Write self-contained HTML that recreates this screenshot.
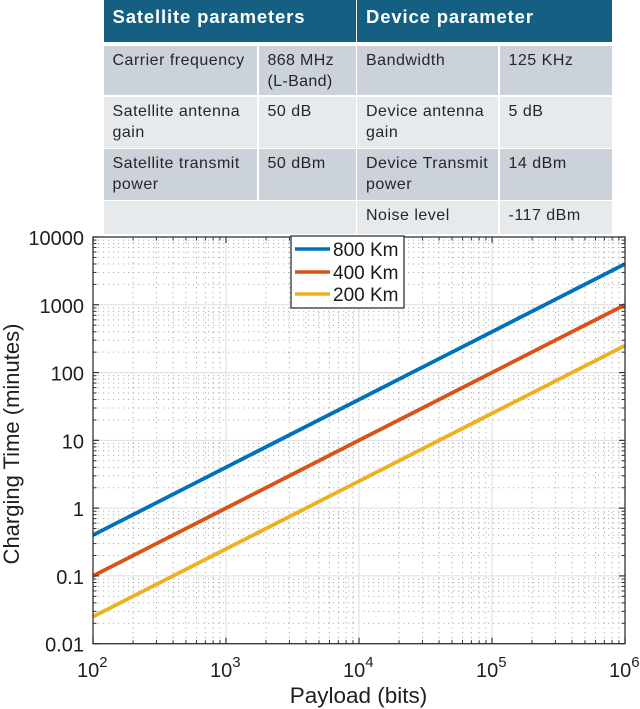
<!DOCTYPE html>
<html lang="en">
<head>
<meta charset="utf-8">
<title>Charging time vs payload</title>
<style>
html,body{margin:0;padding:0;background:#fff}
#page{position:relative;width:640px;height:709px;overflow:hidden;background:#fff;font-family:"Liberation Sans",sans-serif}
#chart{position:absolute;left:0;top:0;filter:blur(0.3px)}
#param-table{position:absolute;left:0;top:0;width:640px;height:235px;filter:blur(0.3px)}
.cell{position:absolute;box-sizing:border-box;padding:4px 0 0 9px;font-size:16px;line-height:21px;letter-spacing:.5px;color:#262626;white-space:nowrap}
.a{background:#ccd2d9}
.b{background:#e7eaed}
.h{background:#156082;color:#fff;font-weight:bold;font-size:18.5px;letter-spacing:.85px;padding-top:6px}
</style>
</head>
<body>
<div id="page">
<svg id="chart" width="640" height="709" viewBox="0 0 640 709" xmlns="http://www.w3.org/2000/svg"></svg>
<div id="param-table">
<div class="cell h" style="left:103.5px;top:0;width:252px;height:42px">Satellite parameters</div>
<div class="cell h" style="left:357px;top:0;width:255px;height:42px">Device parameter</div>

<div class="cell a" style="left:103.5px;top:46px;width:153.5px;height:49px">Carrier frequency</div>
<div class="cell a" style="left:258.5px;top:46px;width:97px;height:49px;letter-spacing:.35px">868 MHz<br>(L-Band)</div>
<div class="cell a" style="left:357px;top:46px;width:141px;height:49px">Bandwidth</div>
<div class="cell a" style="left:499.5px;top:46px;width:112.5px;height:49px">125 KHz</div>

<div class="cell b" style="left:103.5px;top:97px;width:153.5px;height:50.5px">Satellite antenna<br>gain</div>
<div class="cell b" style="left:258.5px;top:97px;width:97px;height:50.5px">50 dB</div>
<div class="cell b" style="left:357px;top:97px;width:141px;height:50.5px">Device antenna<br>gain</div>
<div class="cell b" style="left:499.5px;top:97px;width:112.5px;height:50.5px">5 dB</div>

<div class="cell a" style="left:103.5px;top:149px;width:153.5px;height:50.5px">Satellite transmit<br>power</div>
<div class="cell a" style="left:258.5px;top:149px;width:97px;height:50.5px">50 dBm</div>
<div class="cell a" style="left:357px;top:149px;width:141px;height:50.5px">Device Transmit<br>power</div>
<div class="cell a" style="left:499.5px;top:149px;width:112.5px;height:50.5px">14 dBm</div>

<div class="cell b" style="left:103.5px;top:201px;width:252px;height:32.5px"></div>
<div class="cell b" style="left:357px;top:201px;width:141px;height:32.5px">Noise level</div>
<div class="cell b" style="left:499.5px;top:201px;width:112.5px;height:32.5px">-117 dBm</div>
</div>
</div>
<script>
const payloadBits = [100, 1000, 10000, 100000, 1000000];
const series800Km = [0.4, 4, 40, 400, 4000];
const series400Km = [0.1, 1, 10, 100, 1000];
const series200Km = [0.025, 0.25, 2.5, 25, 250];
const seriesNames = ['800 Km', '400 Km', '200 Km'];
const xExponents = [2, 3, 4, 5, 6];
const yTickValues = [0.01, 0.1, 1, 10, 100, 1000, 10000];
const yTickLabels = ['0.01', '0.1', '1', '10', '100', '1000', '10000'];

const svg = document.getElementById('chart');
const NS = 'http://www.w3.org/2000/svg';
const plot = {l: 93, r: 625, t: 237, b: 643.7};
const xMin = 100, xMax = 1000000, yMin = 0.01, yMax = 10000;

function xScale(v) {
  return plot.l + (Math.log10(v) - Math.log10(xMin)) / (Math.log10(xMax) - Math.log10(xMin)) * (plot.r - plot.l);
}
function yScale(v) {
  return plot.b - (Math.log10(v) - Math.log10(yMin)) / (Math.log10(yMax) - Math.log10(yMin)) * (plot.b - plot.t);
}
function make(tag, attrs) {
  const el = document.createElementNS(NS, tag);
  for (const k in attrs) el.setAttribute(k, attrs[k]);
  return el;
}
function line(parent, x1, y1, x2, y2, stroke, width, dash) {
  const el = make('line', {x1: x1, y1: y1, x2: x2, y2: y2, stroke: stroke, 'stroke-width': width});
  if (dash) el.setAttribute('stroke-dasharray', dash);
  parent.appendChild(el);
  return el;
}
function minorValues(from, to) {
  const out = [];
  for (let d = from; d < to; d *= 10) {
    for (let m = 2; m <= 9; m++) out.push(d * m);
  }
  return out;
}

const gridGroup = make('g', {});


svg.appendChild(gridGroup);

minorValues(xMin, xMax).forEach(v => {
  const g = line(gridGroup, xScale(v), plot.t, xScale(v), plot.b, '#b0b0b0', 1, '1.2 3.8');
  
  
});
minorValues(yMin, yMax).forEach(v => {
  const g = line(gridGroup, plot.l, yScale(v), plot.r, yScale(v), '#b0b0b0', 1, '1.2 3.8');
  
  
});
payloadBits.forEach(v => {
  const g = line(gridGroup, xScale(v), plot.t, xScale(v), plot.b, '#dedede', 1);
  
  
});
yTickValues.forEach(v => {
  const g = line(gridGroup, plot.l, yScale(v), plot.r, yScale(v), '#dedede', 1);
  
  
});

const colors = ['#0072bd', '#d95319', '#edb120'];
const allSeries = [series800Km, series400Km, series200Km];
allSeries.forEach((vals, i) => {
  const pts = vals.map((v, j) => xScale(payloadBits[j]).toFixed(2) + ',' + yScale(v).toFixed(2)).join(' ');
  const p = make('polyline', {points: pts, fill: 'none', stroke: colors[i], 'stroke-width': 3.8});
  
  
  svg.appendChild(p);
});

const axisGroup = make('g', {});


svg.appendChild(axisGroup);

const axisColor = '#333333';
const box = make('rect', {x: plot.l, y: plot.t, width: plot.r - plot.l, height: plot.b - plot.t, fill: 'none', stroke: axisColor, 'stroke-width': 1.3});


axisGroup.appendChild(box);

payloadBits.forEach(v => {
  const x = xScale(v);
  line(axisGroup, x, plot.b, x, plot.b - 6, axisColor, 1.2);
  line(axisGroup, x, plot.t, x, plot.t + 6, axisColor, 1.2);
});
minorValues(xMin, xMax).forEach(v => {
  const x = xScale(v);
  line(axisGroup, x, plot.b, x, plot.b - 3.5, axisColor, 1);
  line(axisGroup, x, plot.t, x, plot.t + 3.5, axisColor, 1);
});
yTickValues.forEach(v => {
  const y = yScale(v);
  line(axisGroup, plot.l, y, plot.l + 6, y, axisColor, 1.2);
  line(axisGroup, plot.r, y, plot.r - 6, y, axisColor, 1.2);
});
minorValues(yMin, yMax).forEach(v => {
  const y = yScale(v);
  line(axisGroup, plot.l, y, plot.l + 3.5, y, axisColor, 1);
  line(axisGroup, plot.r, y, plot.r - 3.5, y, axisColor, 1);
});

const textFill = '#1f1f1f';
const font = '"Liberation Sans", sans-serif';
yTickValues.forEach((v, i) => {
  const t = make('text', {x: 84, y: yScale(v) + 8, 'text-anchor': 'end', 'font-family': font, 'font-size': 20, fill: textFill});
  t.textContent = yTickLabels[i];
  
  
  svg.appendChild(t);
});
payloadBits.forEach((v, i) => {
  const x = xScale(v);
  const t = make('text', {x: x - 16, y: 677, 'font-family': font, 'font-size': 20, fill: textFill});
  const base = make('tspan', {});
  base.textContent = '10';
  const sup = make('tspan', {dy: -10, 'font-size': 15});
  sup.textContent = String(xExponents[i]);
  t.appendChild(base);
  t.appendChild(sup);
  
  
  svg.appendChild(t);
});

const xTitle = make('text', {x: 358.5, y: 703, 'text-anchor': 'middle', 'font-family': font, 'font-size': 22.5, fill: textFill});
xTitle.textContent = 'Payload (bits)';


svg.appendChild(xTitle);

const yTitle = make('text', {x: 0, y: 0, 'text-anchor': 'middle', 'font-family': font, 'font-size': 22, fill: textFill, transform: 'translate(19 444) rotate(-90)'});
yTitle.textContent = 'Charging Time (minutes)';


svg.appendChild(yTitle);

const legend = make('g', {});


svg.appendChild(legend);
const legendBox = make('rect', {x: 291, y: 236, width: 113, height: 72, fill: '#fff', stroke: '#333333', 'stroke-width': 1.3});


legend.appendChild(legendBox);
const legendRowY = [249, 272, 294];
seriesNames.forEach((name, i) => {
  const swatch = line(legend, 295, legendRowY[i], 330, legendRowY[i], colors[i], 3.6);
  
  
  const t = make('text', {x: 333, y: legendRowY[i] + 7, 'font-family': font, 'font-size': 19, fill: '#1a1a1a'});
  t.textContent = name;
  
  
  legend.appendChild(t);
});
</script>
</body>
</html>
